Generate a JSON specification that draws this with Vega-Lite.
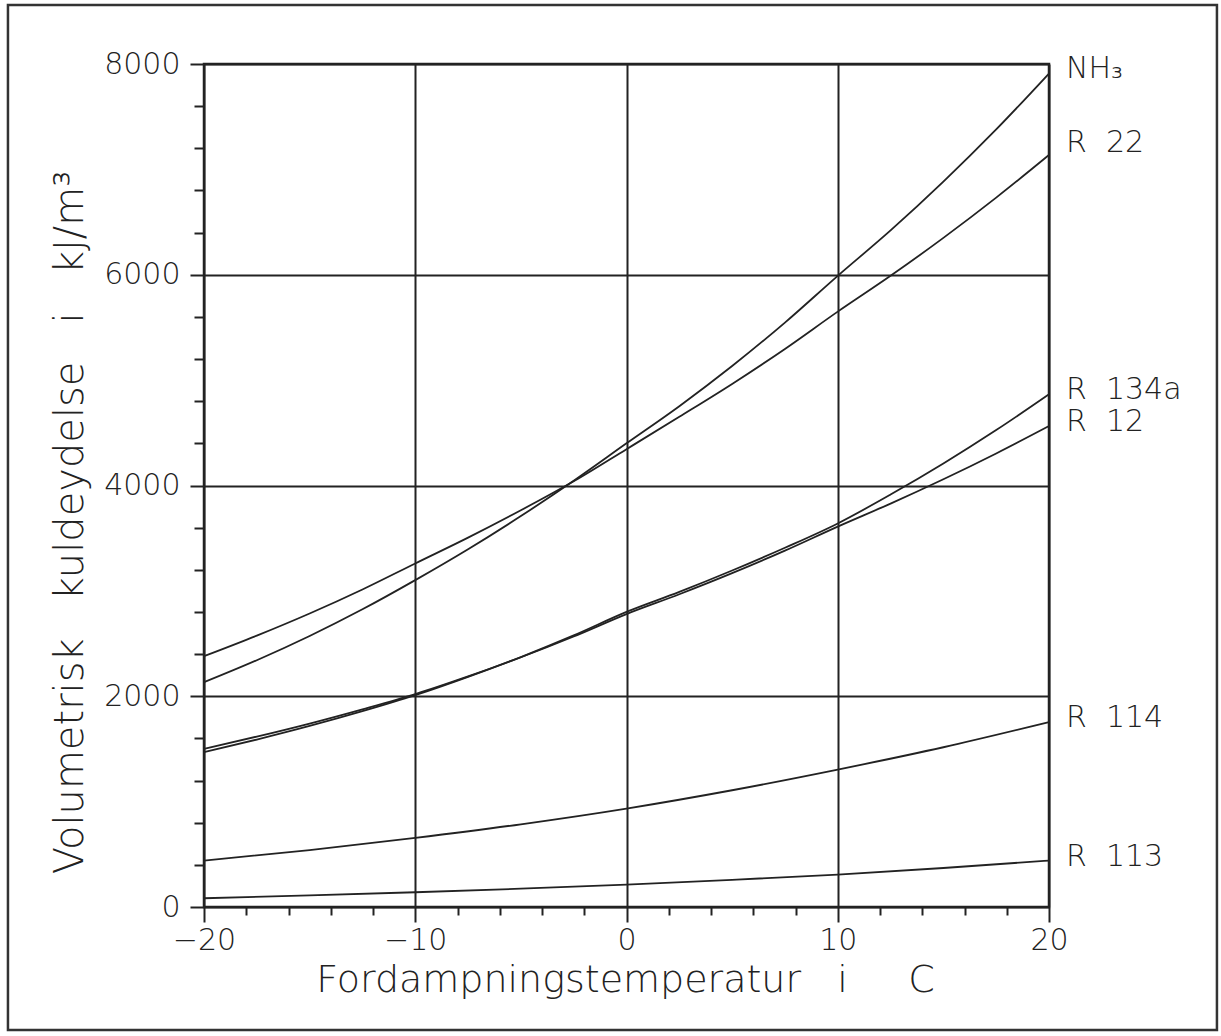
{
  "$schema": "https://vega.github.io/schema/vega-lite/v6.json",
  "width": 845,
  "height": 843,
  "autosize": {"type": "none"},
  "padding": {"left": 204, "top": 64, "right": 172, "bottom": 129},
  "background": "white",
  "config": {"view": {"stroke": "#222", "strokeWidth": 2.5}, "font": "DejaVu Sans"},
  "datasets": {
    "curves": [
      {"k": "NH3", "t": -20, "v": 2133}, {"k": "NH3", "t": -17.5, "v": 2342}, {"k": "NH3", "t": -15, "v": 2572}, {"k": "NH3", "t": -12.5, "v": 2825},
      {"k": "NH3", "t": -10, "v": 3102}, {"k": "NH3", "t": -7.5, "v": 3395}, {"k": "NH3", "t": -5, "v": 3710}, {"k": "NH3", "t": -2.5, "v": 4045},
      {"k": "NH3", "t": 0, "v": 4400}, {"k": "NH3", "t": 2.5, "v": 4753}, {"k": "NH3", "t": 5, "v": 5134}, {"k": "NH3", "t": 7.5, "v": 5546},
      {"k": "NH3", "t": 10, "v": 5990}, {"k": "NH3", "t": 12.5, "v": 6421}, {"k": "NH3", "t": 15, "v": 6884}, {"k": "NH3", "t": 17.5, "v": 7379},
      {"k": "NH3", "t": 20, "v": 7910},
      {"k": "R22", "t": -20, "v": 2380}, {"k": "R22", "t": -17.5, "v": 2575}, {"k": "R22", "t": -15, "v": 2785}, {"k": "R22", "t": -12.5, "v": 3013},
      {"k": "R22", "t": -10, "v": 3260}, {"k": "R22", "t": -7.5, "v": 3505}, {"k": "R22", "t": -5, "v": 3765}, {"k": "R22", "t": -2.5, "v": 4040},
      {"k": "R22", "t": 0, "v": 4345}, {"k": "R22", "t": 2.5, "v": 4652}, {"k": "R22", "t": 5, "v": 4964}, {"k": "R22", "t": 7.5, "v": 5296},
      {"k": "R22", "t": 10, "v": 5650}, {"k": "R22", "t": 12.5, "v": 5990}, {"k": "R22", "t": 15, "v": 6350}, {"k": "R22", "t": 17.5, "v": 6732},
      {"k": "R22", "t": 20, "v": 7137},
      {"k": "R134a", "t": -20, "v": 1469}, {"k": "R134a", "t": -17.5, "v": 1589}, {"k": "R134a", "t": -15, "v": 1718}, {"k": "R134a", "t": -12.5, "v": 1858},
      {"k": "R134a", "t": -10, "v": 2010}, {"k": "R134a", "t": -7.5, "v": 2184}, {"k": "R134a", "t": -5, "v": 2372}, {"k": "R134a", "t": -2.5, "v": 2577},
      {"k": "R134a", "t": 0, "v": 2800}, {"k": "R134a", "t": 2.5, "v": 2990}, {"k": "R134a", "t": 5, "v": 3193}, {"k": "R134a", "t": 7.5, "v": 3409},
      {"k": "R134a", "t": 10, "v": 3640}, {"k": "R134a", "t": 12.5, "v": 3914}, {"k": "R134a", "t": 15, "v": 4209}, {"k": "R134a", "t": 17.5, "v": 4526},
      {"k": "R134a", "t": 20, "v": 4866},
      {"k": "R12", "t": -20, "v": 1501}, {"k": "R12", "t": -17.5, "v": 1617}, {"k": "R12", "t": -15, "v": 1741}, {"k": "R12", "t": -12.5, "v": 1876},
      {"k": "R12", "t": -10, "v": 2020}, {"k": "R12", "t": -7.5, "v": 2188}, {"k": "R12", "t": -5, "v": 2370}, {"k": "R12", "t": -2.5, "v": 2567},
      {"k": "R12", "t": 0, "v": 2780}, {"k": "R12", "t": 2.5, "v": 2968}, {"k": "R12", "t": 5, "v": 3168}, {"k": "R12", "t": 7.5, "v": 3382},
      {"k": "R12", "t": 10, "v": 3610}, {"k": "R12", "t": 12.5, "v": 3828}, {"k": "R12", "t": 15, "v": 4059}, {"k": "R12", "t": 17.5, "v": 4304},
      {"k": "R12", "t": 20, "v": 4564},
      {"k": "R114", "t": -20, "v": 440}, {"k": "R114", "t": -15, "v": 540}, {"k": "R114", "t": -10, "v": 656}, {"k": "R114", "t": -5, "v": 785},
      {"k": "R114", "t": 0, "v": 934}, {"k": "R114", "t": 5, "v": 1108}, {"k": "R114", "t": 10, "v": 1304}, {"k": "R114", "t": 15, "v": 1516},
      {"k": "R114", "t": 20, "v": 1754},
      {"k": "R113", "t": -20, "v": 83}, {"k": "R113", "t": -15, "v": 110}, {"k": "R113", "t": -10, "v": 140}, {"k": "R113", "t": -5, "v": 174},
      {"k": "R113", "t": 0, "v": 213}, {"k": "R113", "t": 5, "v": 258}, {"k": "R113", "t": 10, "v": 308}, {"k": "R113", "t": 15, "v": 370},
      {"k": "R113", "t": 20, "v": 441}
    ],
    "labels": [
      {"k": "NH3", "name": "NH₃"},
      {"k": "R22", "name": "R\u00a0\u00a022"},
      {"k": "R134a", "name": "R\u00a0\u00a0134a"},
      {"k": "R12", "name": "R\u00a0\u00a012"},
      {"k": "R114", "name": "R\u00a0\u00a0114"},
      {"k": "R113", "name": "R\u00a0\u00a0113"}
    ]
  },
  "layer": [
    {
      "data": {"name": "curves"},
      "mark": {"type": "line", "interpolate": "monotone", "stroke": "#222", "strokeWidth": 1.8},
      "encoding": {
        "x": {
          "field": "t", "type": "quantitative",
          "scale": {"domain": [-20, 20], "nice": false, "zero": false},
          "axis": {
            "values": [-20,-19,-18,-17,-16,-15,-14,-13,-12,-11,-10,-9,-8,-7,-6,-5,-4,-3,-2,-1,0,1,2,3,4,5,6,7,8,9,10,11,12,13,14,15,16,17,18,19,20],
            "labelExpr": "datum.value % 10 === 0 ? datum.label : ''",
            "title": "Fordampningstemperatur\u00a0\u00a0\u00a0i\u00a0\u00a0\u00a0\u00a0\u00a0C",
            "titleFont": "DejaVu Sans", "titleFontSize": 38, "titleFontWeight": 200, "titleColor": "#222",
            "titleX": 421, "titleY": 84, "titleBaseline": "alphabetic", "titleAlign": "center",
            "domain": false,
            "grid": true, "gridColor": "#222", "gridWidth": 2,
            "gridOpacity": {"condition": {"test": "datum.value % 10 === 0", "value": 1}, "value": 0},
            "ticks": true, "tickColor": "#222", "tickWidth": 2,
            "tickSize": {"condition": {"test": "datum.value % 10 === 0", "value": 15}, "value": 8},
            "labelFont": "DejaVu Sans", "labelFontSize": 30, "labelFontWeight": 200, "labelColor": "#222",
            "labelPadding": 3, "labelFlush": false, "labelOverlap": false, "labelBaseline": "top"
          }
        },
        "y": {
          "field": "v", "type": "quantitative",
          "scale": {"domain": [0, 8000], "nice": false},
          "axis": {
            "values": [0,200,400,600,800,1000,1200,1400,1600,1800,2000,2200,2400,2600,2800,3000,3200,3400,3600,3800,4000,4200,4400,4600,4800,5000,5200,5400,5600,5800,6000,6200,6400,6600,6800,7000,7200,7400,7600,7800,8000],
            "labelExpr": "datum.value % 2000 === 0 ? datum.value : ''",
            "title": "Volumetrisk\u00a0\u00a0\u00a0kuldeydelse\u00a0\u00a0\u00a0i\u00a0\u00a0\u00a0kJ/m³",
            "titleFont": "DejaVu Sans", "titleFontSize": 40, "titleFontWeight": 200, "titleColor": "#222",
            "titleX": -122, "titleY": 458, "titleBaseline": "alphabetic", "titleAlign": "center", "titleAngle": -90,
            "domain": false,
            "grid": true, "gridColor": "#222", "gridWidth": 2,
            "gridOpacity": {"condition": {"test": "datum.value % 2000 === 0", "value": 1}, "value": 0},
            "ticks": true, "tickColor": "#222", "tickWidth": 2,
            "tickSize": {"condition": {"test": "datum.value % 2000 === 0", "value": 14}, "value": 10},
            "labelFont": "DejaVu Sans", "labelFontSize": 30, "labelFontWeight": 200, "labelColor": "#222",
            "labelPadding": 10, "labelOverlap": false, "labelFlush": false
          }
        },
        "detail": {"field": "k"}
      }
    },
    {
      "data": {"values": [{}]},
      "mark": {"type": "rect", "fill": null, "stroke": "#333", "strokeWidth": 2.5, "clip": false},
      "encoding": {
        "x": {"datum": -29.28, "type": "quantitative"},
        "x2": {"datum": 27.95},
        "y": {"datum": 8560, "type": "quantitative"},
        "y2": {"datum": -1167}
      }
    },
    {
      "data": {"name": "curves"},
      "transform": [
        {"filter": "datum.t === 20 && datum.k !== 'R22'"},
        {"lookup": "k", "from": {"data": {"name": "labels"}, "key": "k", "fields": ["name"]}}
      ],
      "mark": {"type": "text", "align": "left", "baseline": "middle", "dx": 17, "dy": -4, "fontSize": 30, "fontWeight": 200, "font": "DejaVu Sans", "fill": "#222"},
      "encoding": {
        "x": {"field": "t", "type": "quantitative"},
        "y": {"field": "v", "type": "quantitative"},
        "text": {"field": "name"}
      }
    },
    {
      "data": {"name": "curves"},
      "transform": [
        {"filter": "datum.t === 20 && datum.k === 'R22'"},
        {"lookup": "k", "from": {"data": {"name": "labels"}, "key": "k", "fields": ["name"]}}
      ],
      "mark": {"type": "text", "align": "left", "baseline": "middle", "dx": 17, "dy": -12, "fontSize": 30, "fontWeight": 200, "font": "DejaVu Sans", "fill": "#222"},
      "encoding": {
        "x": {"field": "t", "type": "quantitative"},
        "y": {"field": "v", "type": "quantitative"},
        "text": {"field": "name"}
      }
    }
  ]
}
